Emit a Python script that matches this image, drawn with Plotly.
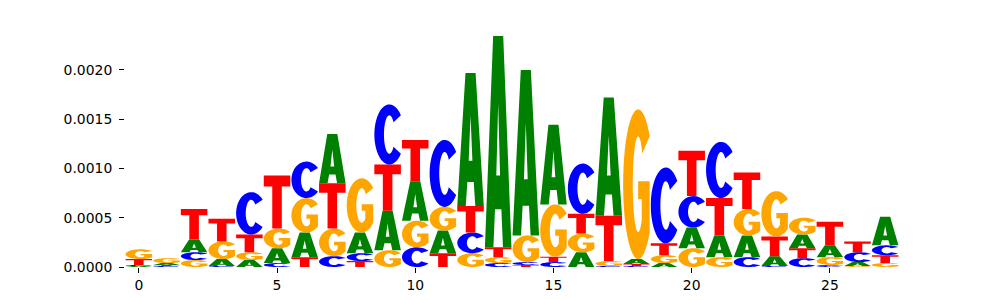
import math
import plotly.graph_objects as go

positions = list(range(28))
A = [0.00001, 0.00002, 0.00013, 0.00007, 0.00007, 0.00015, 0.00025, 0.00050,
     0.00021, 0.00040, 0.00040, 0.00023, 0.00135, 0.002145, 0.00168, 0.00081,
     0.00015, 0.00120, 0.00005, 0.00004, 0.00021, 0.00022, 0.00022, 0.00010,
     0.00014, 0.00012, 0.00004, 0.00029]
C = [0.00001, 0.00001, 0.00008, 0.00001, 0.00043, 0.00004, 0.00037, 0.00011,
     0.00008, 0.00061, 0.00020, 0.00068, 0.00021, 0.00004, 0.00003, 0.00005,
     0.00051, 0.00001, 0.00001, 0.00077, 0.00032, 0.00057, 0.00010, 0.00001,
     0.00009, 0.00002, 0.00010, 0.00010]
G = [0.00010, 0.00005, 0.00007, 0.00018, 0.00008, 0.00020, 0.00035, 0.00028,
     0.00055, 0.00017, 0.00027, 0.00024, 0.00014, 0.00006, 0.00027, 0.00053,
     0.00019, 0.00005, 0.00152, 0.00008, 0.00019, 0.00010, 0.00027, 0.00046,
     0.00017, 0.00008, 0.00001, 0.00004]
T = [0.00006, 0.00001, 0.00031, 0.00023, 0.00018, 0.00054, 0.00010, 0.00046,
     0.00006, 0.00047, 0.00042, 0.00014, 0.00027, 0.00010, 0.00002, 0.000055,
     0.00020, 0.00046, 0.00002, 0.00012, 0.00046, 0.00038, 0.00037, 0.00020,
     0.00010, 0.00024, 0.00011, 0.00008]
xtick_vals = [0, 5, 10, 15, 20, 25]
ytick_vals = [0.0, 0.0005, 0.0010, 0.0015, 0.0020]

colors = {"A": "#008000", "C": "#0000ff", "G": "#ffa500", "T": "#ff0000"}
series = {"A": A, "C": C, "G": G, "T": T}


# ---- glyph outlines in a unit box ----
def ell(cx, cy, rx, ry, a0, a1, n=40):
    pts = []
    for i in range(n + 1):
        a = math.radians(a0 + (a1 - a0) * i / n)
        pts.append((cx + rx * math.cos(a), cy + ry * math.sin(a)))
    return pts


def normalize(rings):
    xs = [p[0] for r in rings for p in r]
    ys = [p[1] for r in rings for p in r]
    x0, x1, y0, y1 = min(xs), max(xs), min(ys), max(ys)
    return [[((x - x0) / (x1 - x0), (y - y0) / (y1 - y0)) for x, y in r] for r in rings]


def glyph_T():
    return [[(0, 1), (1, 1), (1, 0.79), (0.68, 0.79), (0.68, 0), (0.32, 0),
             (0.32, 0.79), (0, 0.79)]]


def glyph_A():
    outer = [(0, 0), (0.31, 1), (0.69, 1), (1, 0), (0.68, 0), (0.62, 0.18),
             (0.38, 0.18), (0.32, 0)]
    hole = [(0.43, 0.34), (0.57, 0.34), (0.5, 0.68)]
    return [outer, hole]


RX_IN, RY_IN = 0.18, 0.32


def glyph_C():
    outer = ell(0.5, 0.5, 0.5, 0.5, 40, 320)
    inner = ell(0.5, 0.5, RX_IN, RY_IN, 320, 40)
    return normalize([outer + inner])


def glyph_G():
    outer = ell(0.5, 0.5, 0.5, 0.5, 40, 320)
    xr = outer[-1][0]
    stem_in = 0.62
    th = -math.degrees(math.acos((stem_in - 0.5) / RX_IN))
    yi = 0.5 + RY_IN * math.sin(math.radians(th))
    mid = [(xr, 0.52), (0.5, 0.52), (0.5, 0.40), (stem_in, 0.40), (stem_in, yi)]
    inner = ell(0.5, 0.5, RX_IN, RY_IN, 360 + th, 40)
    return normalize([outer + mid + inner])


glyphs = {"A": glyph_A(), "C": glyph_C(), "G": glyph_G(), "T": glyph_T()}

WIDTH = 0.96


def path_for(rings, xc, y0, h):
    parts = []
    for r in rings:
        s = "M " + " L ".join(
            f"{xc - WIDTH / 2 + WIDTH * x:.5f},{y0 + h * y:.8f}" for x, y in r)
        parts.append(s + " Z")
    return " ".join(parts)


shapes = []
for i, p in enumerate(positions):
    vals = sorted(((series[k][i], k) for k in "ACGT"), key=lambda t: t[0])
    base = 0.0
    for v, k in vals:
        if v > 0:
            shapes.append(dict(type="path", xref="x", yref="y",
                               path=path_for(glyphs[k], p, base, v),
                               fillcolor=colors[k], fillrule="evenodd",
                               line=dict(width=0, color="rgba(0,0,0,0)"),
                               layer="above"))
        base += v

ymax = max(A[i] + C[i] + G[i] + T[i] for i in range(len(positions)))

fig = go.Figure()
fig.add_trace(go.Scatter(x=[positions[0], positions[-1]], y=[0, ymax],
                         mode="markers", marker=dict(opacity=0),
                         hoverinfo="skip", showlegend=False))
fig.update_layout(
    width=1000, height=300,
    margin=dict(l=125, r=101, t=36, b=33, autoexpand=False),
    paper_bgcolor="white", plot_bgcolor="white",
    font=dict(family="DejaVu Sans", size=13.9, color="black"),
    shapes=shapes, showlegend=False,
    xaxis=dict(range=[-0.5, len(positions) - 0.5], tickvals=xtick_vals,
               ticks="outside", ticklen=5, tickwidth=1, tickcolor="black",
               showline=False, showgrid=False, zeroline=False, automargin=False),
    yaxis=dict(range=[0, ymax], tickvals=ytick_vals,
               ticktext=[f"{v:.4f}" for v in ytick_vals],
               ticks="outside", ticklen=5, tickwidth=1, tickcolor="black",
               ticklabelstandoff=4,
               showline=False, showgrid=False, zeroline=False, automargin=False),
)
fig.write_html("out.html")
